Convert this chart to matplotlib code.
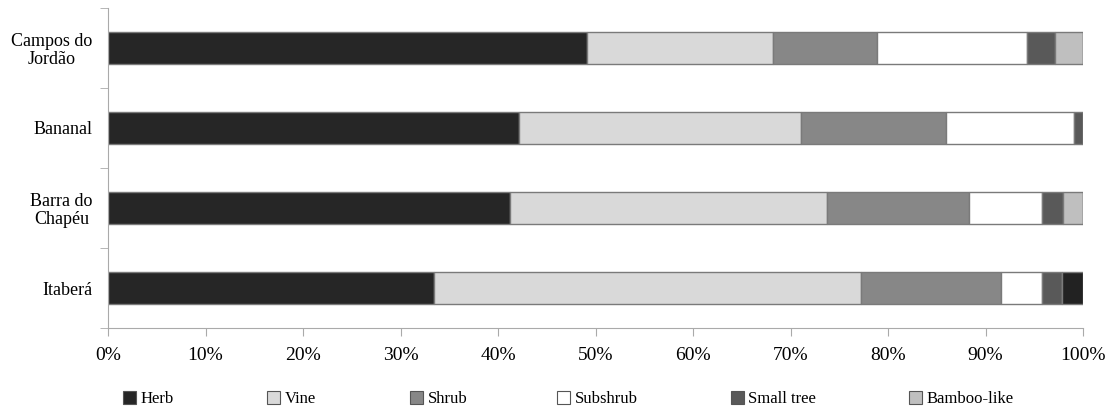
import numpy as np
import matplotlib.pyplot as plt
from matplotlib.patches import Patch

plt.rcParams['font.family'] = ['Liberation Serif', 'DejaVu Serif']

# sites, top to bottom
sites = ['Campos do\nJordão', 'Bananal', 'Barra do\nChapéu', 'Itaberá']

# percentage of species by life form
herb = [49.1, 42.2, 41.2, 33.4]
vine = [19.1, 28.9, 32.5, 43.8]
shrub = [10.7, 14.8, 14.6, 14.4]
subshrub = [15.4, 13.2, 7.5, 4.2]
small_tree = [2.8, 0.9, 2.1, 2.0]
bamboo = [2.9, 0.0, 2.1, 0.0]
other = [0.0, 0.0, 0.0, 2.2]  # unlabelled last segment in Itaberá

series = [('Herb', herb, '#262626'),
          ('Vine', vine, '#d9d9d9'),
          ('Shrub', shrub, '#878787'),
          ('Subshrub', subshrub, '#ffffff'),
          ('Small tree', small_tree, '#595959'),
          ('Bamboo-like', bamboo, '#bfbfbf'),
          ('_other', other, '#222222')]

fig = plt.figure(figsize=(11.08, 4.11), dpi=100)
ax = fig.add_axes([108 / 1108, 1 - 328 / 411, 975 / 1108, 320 / 411])

y = np.arange(len(sites))
left = np.zeros(len(sites))
for name, vals, col in series:
    vals = np.array(vals)
    ax.barh(y, vals, left=left, height=0.4, color=col,
            edgecolor='#7a7a7a', linewidth=1.0, label=name)
    left += vals

ax.set_xlim(0, 100)
ax.set_ylim(len(sites) - 0.5, -0.5)
ax.set_yticks(y)
ax.set_yticklabels(sites, fontsize=13, linespacing=1.1)
for lab in ax.get_yticklabels():
    lab.set_multialignment('center')
ax.set_yticks(np.arange(-0.5, len(sites), 1), minor=True)
ax.tick_params(axis='y', which='major', length=0, pad=11)
ax.tick_params(axis='y', which='minor', length=6, color='#aaaaaa')
ax.set_xticks(np.arange(0, 101, 10))
ax.set_xticklabels([f'{v}%' for v in range(0, 101, 10)], fontsize=14)
ax.tick_params(axis='x', length=6, color='#aaaaaa', pad=8)
for s in ['top', 'right']:
    ax.spines[s].set_visible(False)
ax.spines['left'].set_color('#aaaaaa')
ax.spines['bottom'].set_color('#aaaaaa')

# legend entries placed one by one, as in the original layout
leg_x = [123, 267, 410, 557, 731, 909]
handles = [Patch(facecolor=c, edgecolor='#555555', linewidth=0.8, label=n)
           for n, v, c in series if not n.startswith('_')]
for h, px in zip(handles, leg_x):
    lg = fig.legend(handles=[h], loc='center left',
                    bbox_to_anchor=(px / 1108, 1 - 399 / 411),
                    frameon=False, fontsize=12, handlelength=0.8,
                    handleheight=0.8, handletextpad=0.25,
                    borderpad=0, borderaxespad=0)

fig.savefig('out.png', dpi=100)
